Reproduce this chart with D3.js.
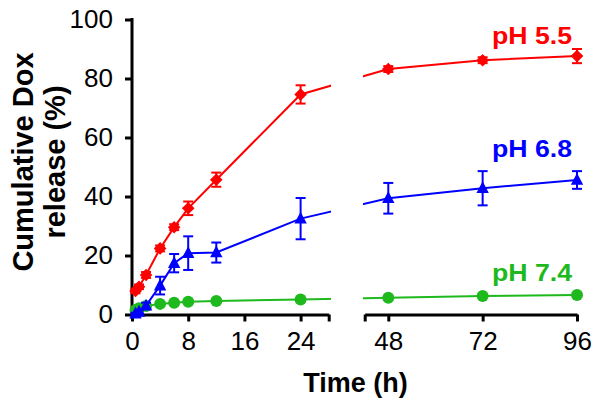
<!DOCTYPE html>
<html>
<head>
<meta charset="utf-8">
<script src="https://cdn.jsdelivr.net/npm/d3@7"></script>
<style>
  body { margin: 0; background: #fff; }
  svg { display: block; }
  text { font-family: "Liberation Sans", Arial, sans-serif; }
</style>
</head>
<body>
<svg id="chart" width="601" height="407"></svg>
<script>
// ---- data ----
const times = [0.5, 1, 2, 4, 6, 8, 12, 24, 48, 72, 96];
const ph55 = [8.0, 9.4, 13.4, 22.4, 29.6, 36.0, 45.7, 74.6, 83.2, 86.2, 87.6];
const ph55Err = [0.8, 0.8, 1.0, 1.0, 1.0, 2.3, 2.4, 3.1, 1.0, 1.0, 2.4];
const ph68 = [0.3, 0.9, 3.0, 9.8, 17.4, 20.8, 21.0, 32.5, 39.4, 42.8, 45.6];
const ph68Err = [0.3, 0.5, 1.0, 3.0, 3.1, 5.7, 3.4, 7.0, 5.2, 5.8, 3.0];
const ph74 = [1.5, 2.1, 2.9, 3.6, 4.0, 4.3, 4.6, 5.1, 5.7, 6.3, 6.6];
const ph74Err = [0.4, 0.4, 0.4, 0.5, 0.5, 0.5, 0.5, 0.5, 0.5, 0.5, 0.5];
const yTicks = [0, 20, 40, 60, 80, 100];
const xTicksLeft = [0, 8, 16, 24];
const xTicksRight = [48, 72, 96];
const seriesNames = ["pH 5.5", "pH 6.8", "pH 7.4"];

const svg = d3.select("#chart");

// ---- scales (broken x axis) ----
const xLeft = d3.scaleLinear().domain([0, 28]).range([132, 328.7]);
const xRight = d3.scaleLinear().domain([42, 96]).range([364.7, 577]);
const x = d3.scaleLinear().domain([0, 28, 42, 96]).range([132, 328.7, 364.7, 577]);
const y = d3.scaleLinear().domain([0, 100]).range([314.5, 19.5]);

// ---- clip paths for the gap ----
const defs = svg.append("defs");
const cp = defs.append("clipPath").attr("id", "gapclip");
cp.append("rect").attr("x", 0).attr("y", 0).attr("width", 331).attr("height", 407);
cp.append("rect").attr("x", 363).attr("y", 0).attr("width", 238).attr("height", 407);

// ---- axes ----
function styleAxis(g) {
  g.selectAll(".domain").attr("stroke", "#000").attr("stroke-width", 3);
  g.selectAll(".tick line").attr("stroke", "#000").attr("stroke-width", 3);
  g.selectAll(".tick text").attr("fill", "#000")
    .style("font-family", "'Liberation Sans', Arial, sans-serif")
    .style("font-size", "26px");
}

const yAxis = svg.append("g")
  .attr("transform", "translate(132,0)")
  .call(d3.axisLeft(y).tickValues(yTicks).tickSize(7).tickSizeOuter(0).tickPadding(12));
styleAxis(yAxis);
yAxis.select(".domain").attr("d", `M0,${y(100) - 1.5}V${y(0) + 1.5}`);

const xAxisL = svg.append("g")
  .attr("transform", `translate(0,${y(0)})`)
  .call(d3.axisBottom(xLeft).tickValues([...xTicksLeft, 28]).tickSize(7).tickSizeOuter(0).tickPadding(10)
    .tickFormat(d => xTicksLeft.includes(d) ? d : ""));
styleAxis(xAxisL);

const xAxisR = svg.append("g")
  .attr("transform", `translate(0,${y(0)})`)
  .call(d3.axisBottom(xRight).tickValues([42, ...xTicksRight]).tickSize(7).tickSizeOuter(0).tickPadding(10)
    .tickFormat(d => xTicksRight.includes(d) ? d : ""));
styleAxis(xAxisR);

// ---- series ----
const series = [
  { name: seriesNames[2], vals: ph74, err: ph74Err, color: "#1db91d", shape: "circle", labelY: 281 },
  { name: seriesNames[0], vals: ph55, err: ph55Err, color: "#ff0000", shape: "diamond", labelY: 43.5 },
  { name: seriesNames[1], vals: ph68, err: ph68Err, color: "#0000ff", shape: "triangle", labelY: 157 }
];

const line = d3.line().x(d => x(d.t)).y(d => y(d.v));

series.forEach(s => {
  const pts = times.map((t, i) => ({ t, v: s.vals[i], e: s.err[i] }));
  const g = svg.append("g");
  g.append("path")
    .datum(pts)
    .attr("d", line)
    .attr("fill", "none")
    .attr("stroke", s.color)
    .attr("stroke-width", 2)
    .attr("clip-path", "url(#gapclip)");

  // error bars
  const eb = g.selectAll(".eb").data(pts).enter().append("g");
  eb.append("line")
    .attr("x1", d => x(d.t)).attr("x2", d => x(d.t))
    .attr("y1", d => y(d.v + d.e)).attr("y2", d => y(d.v - d.e))
    .attr("stroke", s.color).attr("stroke-width", 2);
  eb.append("line")
    .attr("x1", d => x(d.t) - 5).attr("x2", d => x(d.t) + 5)
    .attr("y1", d => y(d.v + d.e)).attr("y2", d => y(d.v + d.e))
    .attr("stroke", s.color).attr("stroke-width", 2);
  eb.append("line")
    .attr("x1", d => x(d.t) - 5).attr("x2", d => x(d.t) + 5)
    .attr("y1", d => y(d.v - d.e)).attr("y2", d => y(d.v - d.e))
    .attr("stroke", s.color).attr("stroke-width", 2);

  // markers
  const m = g.selectAll(".mk").data(pts).enter();
  if (s.shape === "circle") {
    m.append("circle").attr("cx", d => x(d.t)).attr("cy", d => y(d.v)).attr("r", 6).attr("fill", s.color);
  } else if (s.shape === "diamond") {
    m.append("path")
      .attr("d", d => { const cx = x(d.t), cy = y(d.v), r = 6.3; return `M${cx},${cy - r}L${cx + r},${cy}L${cx},${cy + r}L${cx - r},${cy}Z`; })
      .attr("fill", s.color);
  } else {
    m.append("path")
      .attr("d", d => { const cx = x(d.t), cy = y(d.v); return `M${cx},${cy - 7}L${cx + 6.2},${cy + 4.8}L${cx - 6.2},${cy + 4.8}Z`; })
      .attr("fill", s.color);
  }

  // label
  svg.append("text")
    .attr("transform", `translate(572,${s.labelY}) scale(1.16,1)`)
    .attr("text-anchor", "end")
    .attr("fill", s.color)
    .style("font-size", "23px")
    .style("font-weight", "bold")
    .text(s.name);
});

// ---- axis titles ----
svg.append("text")
  .attr("x", 355.5).attr("y", 391.5)
  .attr("text-anchor", "middle")
  .style("font-size", "27px").style("font-weight", "bold")
  .text("Time (h)");

const yt = svg.append("text")
  .attr("transform", "translate(0,162) rotate(-90)")
  .attr("text-anchor", "middle")
  .style("font-size", "29px").style("font-weight", "bold");
yt.append("tspan").attr("x", 0).attr("y", 33).text("Cumulative Dox");
yt.append("tspan").attr("x", 0).attr("y", 65).text("release (%)");
</script>
</body>
</html>
